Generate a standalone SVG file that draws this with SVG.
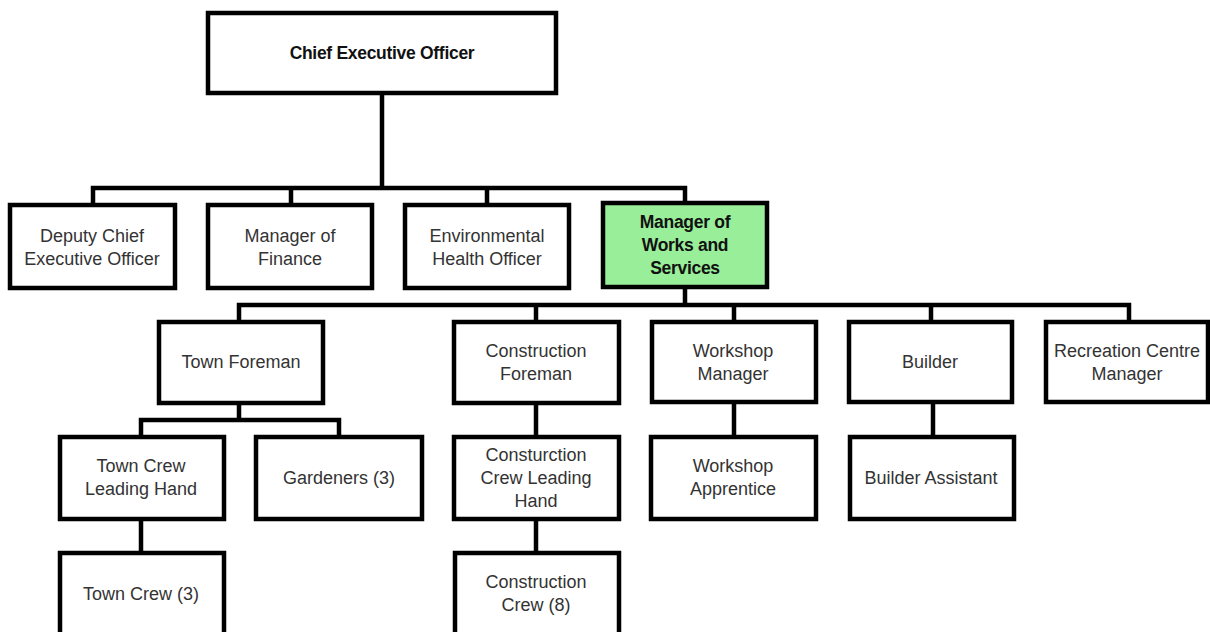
<svg xmlns="http://www.w3.org/2000/svg" width="1210" height="632" viewBox="0 0 1210 632">
<style>
.box{fill:#fff;stroke:#000;stroke-width:4.5}
.green{fill:#99ee99}
.t{font-family:"Liberation Sans",Arial,sans-serif;font-size:18px;fill:#333;text-anchor:middle}
.b{font-weight:bold;fill:#111;font-size:17.5px;letter-spacing:-0.3px}
.c{fill:none;stroke:#000;stroke-width:4.5;stroke-linejoin:miter}
</style>
<rect width="1210" height="632" fill="#fff"/>
<g id="connectors">
<path class="c" d="M382 93V188M93 205V188H685V203M291 188V205M487 188V205"/>
<path class="c" d="M685 287V305M239 322V305H1129V322M536 305V322M734 305V322M931 305V322"/>
<path class="c" d="M239 403V420M141 437V420H339V437"/>
<path class="c" d="M141 519V553"/>
<path class="c" d="M536 403V437"/>
<path class="c" d="M536 519V553"/>
<path class="c" d="M734 402V437"/>
<path class="c" d="M933 402V437"/>
</g>
<g id="ceo"><rect class="box" x="208" y="13" width="348" height="80"/><text class="t b" x="382" y="59">Chief Executive Officer</text></g>
<g id="deputy"><rect class="box" x="10" y="205" width="165" height="83"/><text class="t" x="92" y="242">Deputy Chief</text><text class="t" x="92" y="265">Executive Officer</text></g>
<g id="finance"><rect class="box" x="208" y="205" width="164" height="83"/><text class="t" x="290" y="242">Manager of</text><text class="t" x="290" y="265">Finance</text></g>
<g id="env"><rect class="box" x="405" y="205" width="164" height="83"/><text class="t" x="487" y="242">Environmental</text><text class="t" x="487" y="265">Health Officer</text></g>
<g id="works"><rect class="box green" x="603" y="203" width="164" height="84"/><text class="t b" x="685" y="228">Manager of</text><text class="t b" x="685" y="251">Works and</text><text class="t b" x="685" y="274">Services</text></g>
<g id="townforeman"><rect class="box" x="159" y="322" width="164" height="81"/><text class="t" x="241" y="368">Town Foreman</text></g>
<g id="conforeman"><rect class="box" x="454" y="322" width="165" height="81"/><text class="t" x="536" y="357">Construction</text><text class="t" x="536" y="380">Foreman</text></g>
<g id="workshopmgr"><rect class="box" x="652" y="322" width="164" height="80"/><text class="t" x="733" y="357">Workshop</text><text class="t" x="733" y="380">Manager</text></g>
<g id="builder"><rect class="box" x="849" y="322" width="163" height="80"/><text class="t" x="930" y="368">Builder</text></g>
<g id="recreation"><rect class="box" x="1046" y="322" width="162" height="80"/><text class="t" x="1127" y="357">Recreation Centre</text><text class="t" x="1127" y="380">Manager</text></g>
<g id="townleading"><rect class="box" x="60" y="437" width="164" height="82"/><text class="t" x="141" y="472">Town Crew</text><text class="t" x="141" y="495">Leading Hand</text></g>
<g id="gardeners"><rect class="box" x="256" y="437" width="166" height="82"/><text class="t" x="339" y="484">Gardeners (3)</text></g>
<g id="conleading"><rect class="box" x="454" y="437" width="165" height="82"/><text class="t" x="536" y="461">Consturction</text><text class="t" x="536" y="484">Crew Leading</text><text class="t" x="536" y="507">Hand</text></g>
<g id="apprentice"><rect class="box" x="651" y="437" width="165" height="82"/><text class="t" x="733" y="472">Workshop</text><text class="t" x="733" y="495">Apprentice</text></g>
<g id="assistant"><rect class="box" x="850" y="437" width="164" height="82"/><text class="t" x="931" y="484">Builder Assistant</text></g>
<g id="towncrew"><rect class="box" x="60" y="553" width="164" height="90"/><text class="t" x="141" y="600">Town Crew (3)</text></g>
<g id="concrew"><rect class="box" x="455" y="553" width="164" height="90"/><text class="t" x="536" y="588">Construction</text><text class="t" x="536" y="611">Crew (8)</text></g>
</svg>
